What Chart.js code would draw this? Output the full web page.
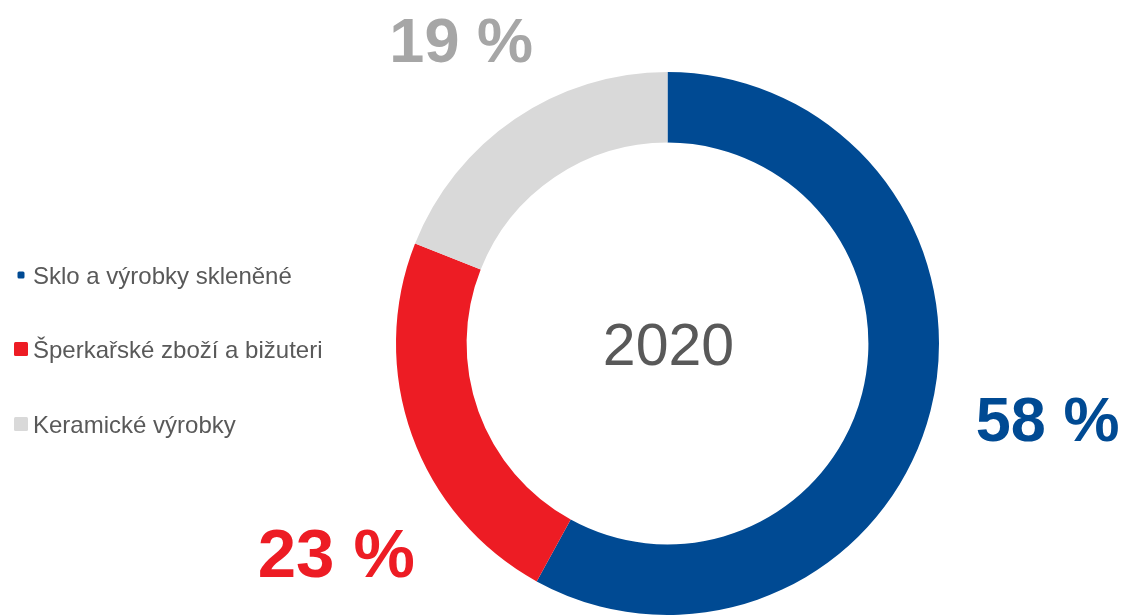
<!DOCTYPE html>
<html>
<head>
<meta charset="utf-8">
<script src="https://cdn.jsdelivr.net/npm/chart.js@4"></script>
<style>
html,body{margin:0;padding:0;background:#fff;}
#wrap{width:1125px;height:615px;position:relative;}
</style>
</head>
<body>
<div id="wrap"><canvas id="c" width="1125" height="615"></canvas></div>
<script>
const categories = ["Sklo a výrobky skleněné", "Šperkařské zboží a bižuteri", "Keramické výrobky"];
const values = [58, 23, 19];
const valueLabels = ["58 %", "23 %", "19 %"];
const colors = ["#004A93", "#ED1C24", "#D9D9D9"];
const labelColors = ["#004A93", "#ED1C24", "#A6A6A6"];
const centerTitle = "2020";

const FONT = "'Liberation Sans', Arial, sans-serif";

const overlay = {
  id: 'overlay',
  afterDraw(chart) {
    const ctx = chart.ctx;
    const meta = chart.getDatasetMeta(0);
    const a0 = meta.data[0];
    const cx = a0.x, cy = a0.y, R = a0.outerRadius;
    ctx.save();
    // center title
    ctx.fillStyle = "#595959";
    ctx.font = "59px " + FONT;
    ctx.textAlign = "center";
    ctx.textBaseline = "middle";
    ctx.fillText(centerTitle, cx + 1, cy + 5);
    // value labels (offsets relative to centre, in units of outer radius)
    const pos = [[1.40, 0.295], [-1.22, 0.79], [-0.76, -1.10]];
    const sizes = [63, 69, 63];
    meta.data.forEach((arc, i) => {
      ctx.font = "bold " + sizes[i] + "px " + FONT;
      ctx.fillStyle = labelColors[i];
      ctx.fillText(valueLabels[i], cx + pos[i][0] * R, cy + pos[i][1] * R);
    });
    // legend
    const legY = [276, 350, 425];
    const box = [7, 14, 14];
    ctx.font = "24px " + FONT;
    ctx.textAlign = "left";
    categories.forEach((c, i) => {
      ctx.fillStyle = colors[i];
      const bx = 21 - box[i] / 2;
      ctx.beginPath();
      if (ctx.roundRect) ctx.roundRect(bx, legY[i] - 1 - box[i] / 2, box[i], box[i], 1.5);
      else ctx.rect(bx, legY[i] - 1 - box[i] / 2, box[i], box[i]);
      ctx.fill();
      ctx.fillStyle = "#595959";
      ctx.fillText(c, 33, legY[i] + 1);
    });
    ctx.restore();
  }
};

new Chart(document.getElementById('c'), {
  type: 'doughnut',
  data: {
    labels: categories,
    datasets: [{
      data: values,
      backgroundColor: colors,
      borderWidth: 0,
      borderColor: '#fff'
    }]
  },
  options: {
    responsive: false,
    animation: false,
    cutout: '74%',
    layout: { padding: { left: 396, right: 186, top: 72, bottom: 0 } },
    plugins: {
      legend: { display: false },
      tooltip: { enabled: false }
    }
  },
  plugins: [overlay]
});
</script>
</body>
</html>
